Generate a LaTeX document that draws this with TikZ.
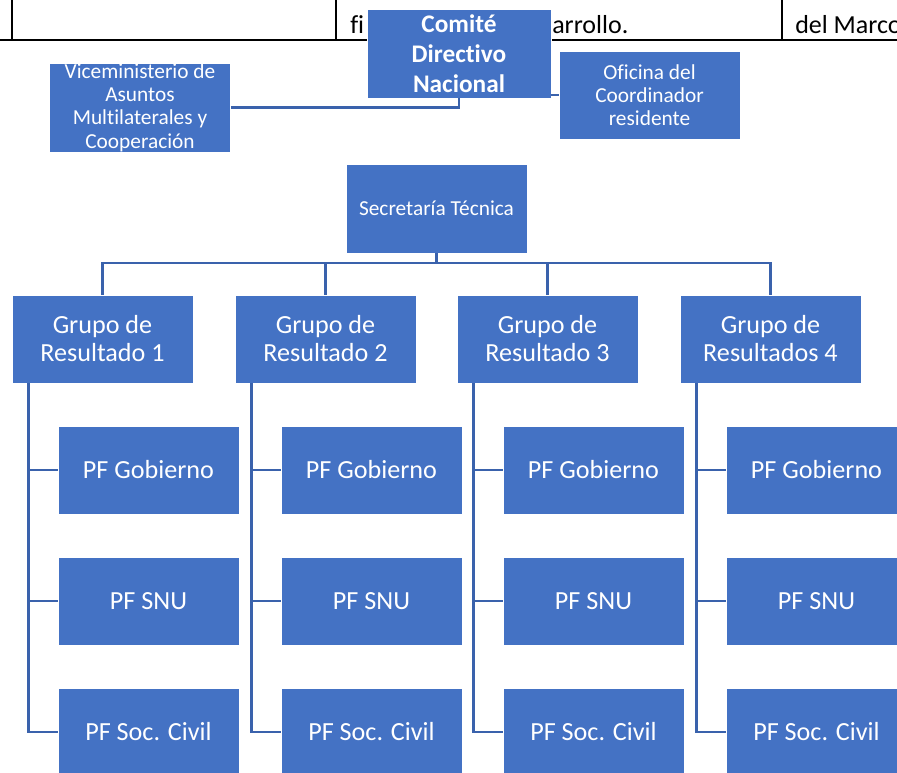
\documentclass[tikz,border=0pt]{standalone}
\usepackage{fontspec}
\setmainfont{Carlito}[Ligatures=NoCommon]
\usepackage{tikz}
\definecolor{boxblue}{HTML}{4472C4}
\definecolor{lineblue}{HTML}{3A62AC}

\begin{document}
\begin{tikzpicture}[x=0.75pt,y=0.75pt,yscale=-1,xscale=1,
    box/.style={draw=white, line width=0.6pt, fill=boxblue, text=white, align=center,
                minimum width=135.75pt, minimum height=66pt, inner sep=0pt},
    smalltxt/.style={font=\fontsize{16}{17.5}\selectfont},
    bigtxt/.style={font=\fontsize{19.6}{21}\selectfont},
    conn/.style={draw=lineblue, line width=1.9pt},
    tabletxt/.style={anchor=base west, inner sep=0pt, font=\fontsize{19.5}{23}\selectfont}]
    \useasboundingbox (0,0) rectangle (897,772);

    %Table rule and columns
    \draw [line width=1.6pt] (0,40) -- (897,40);
    \draw [line width=1.6pt] (12,0) -- (12,40);
    \draw [line width=1.6pt] (336,0) -- (336,40);
    \draw [line width=1.6pt] (782,0) -- (782,40);
    % Text Node
    \node [tabletxt] (tfi) at (350,33) {fi};
    % Text Node
    \node [tabletxt] (tarr) at (552,33) {arrollo.};
    % Text Node
    \node [tabletxt] (tmar) at (795,33) {del Marco};

    %Top level
    \node [box, minimum width=138pt, minimum height=66.75pt,
           font=\bfseries\fontsize{19}{22.5}\selectfont] (comite) at (459,53.5) {Comité\\Directivo\\Nacional};
    \node [box, smalltxt, minimum height=66.75pt] (vice) at (140,107.5) {Viceministerio de\\Asuntos\\Multilaterales y\\Cooperación};
    \node [box, smalltxt] (oficina) at (649.5,95) {Oficina del\\Coordinador\\residente};
    \node [box, smalltxt, minimum height=66.75pt] (sec) at (436.5,208.5) {Secretaría Técnica};

    %Result groups
    \node [box, bigtxt] (g1) at (102.5,339) {Grupo de\\Resultado 1};
    \node [box, bigtxt] (g2) at (325.5,339) {Grupo de\\Resultado 2};
    \node [box, bigtxt] (g3) at (547.5,339) {Grupo de\\Resultado 3};
    \node [box, bigtxt] (g4) at (770.5,339) {Grupo de\\Resultados 4};

    %Focal points
    \node [box, bigtxt] (p11) at (148.5,470) {PF Gobierno};
    \node [box, bigtxt] (p12) at (148.5,601) {PF SNU};
    \node [box, bigtxt] (p13) at (148.5,732) {PF Soc. Civil};
    \node [box, bigtxt] (p21) at (371.5,470) {PF Gobierno};
    \node [box, bigtxt] (p22) at (371.5,601) {PF SNU};
    \node [box, bigtxt] (p23) at (371.5,732) {PF Soc. Civil};
    \node [box, bigtxt] (p31) at (593.5,470) {PF Gobierno};
    \node [box, bigtxt] (p32) at (593.5,601) {PF SNU};
    \node [box, bigtxt] (p33) at (593.5,732) {PF Soc. Civil};
    \node [box, bigtxt] (p41) at (816.5,470) {PF Gobierno};
    \node [box, bigtxt] (p42) at (816.5,601) {PF SNU};
    \node [box, bigtxt] (p43) at (816.5,732) {PF Soc. Civil};

    %Connectors, top
    \draw [conn] (vice.east) -| (comite.south);
    \draw [conn] (oficina.west) -- (oficina.west -| comite.east);
    \coordinate (bus) at (436.5,263);
    \draw [conn] (sec.south) -- (bus);
    \draw [conn] (g1.north) |- (bus) -| (g4.north);
    \draw [conn] (g2.north) -- (g2.north |- bus);
    \draw [conn] (g3.north) -- (g3.north |- bus);

    %Connectors, groups
    \coordinate (s1) at ([xshift=12.75pt]g1.south west);
    \coordinate (s2) at ([xshift=12.75pt]g2.south west);
    \coordinate (s3) at ([xshift=12.75pt]g3.south west);
    \coordinate (s4) at ([xshift=12.75pt]g4.south west);
    \draw [conn] (s1) |- (p13.west) (s1 |- p11.west) -- (p11.west) (s1 |- p12.west) -- (p12.west);
    \draw [conn] (s2) |- (p23.west) (s2 |- p21.west) -- (p21.west) (s2 |- p22.west) -- (p22.west);
    \draw [conn] (s3) |- (p33.west) (s3 |- p31.west) -- (p31.west) (s3 |- p32.west) -- (p32.west);
    \draw [conn] (s4) |- (p43.west) (s4 |- p41.west) -- (p41.west) (s4 |- p42.west) -- (p42.west);
\end{tikzpicture}
\end{document}
